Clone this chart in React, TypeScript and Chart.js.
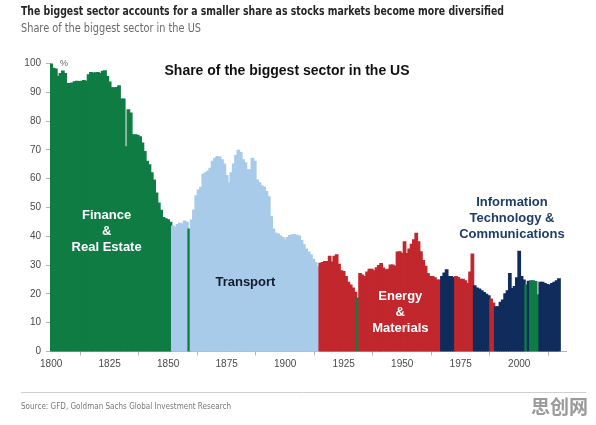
import React, { useEffect, useRef } from "react";
import { Chart, registerables } from "chart.js";

Chart.register(...registerables);

// ---- data ----
const startYear = 1800;

// Share (%) of the biggest sector, one value per year from 1800 to 2017
const shareValues: number[] = [
  // 1800-1809
  100, 98.3, 98, 95.5, 96.5, 97.3, 96.5, 93, 93, 93.2,
  // 1810-1819
  93.6, 93.8, 93.7, 93.8, 94, 93.8, 96, 96.8, 96.6, 96.7,
  // 1820-1829
  96.8, 96.5, 97.2, 97.4, 95.4, 93.5, 91.5, 91.5, 91.6, 92.2,
  // 1830-1839
  87.6, 87.6, 71, 83.9, 82.7, 75.2, 75.2, 75, 74.5, 72.3,
  // 1840-1849
  69.4, 66, 64.8, 62, 59.5, 55, 51.5, 49, 46.5, 46,
  // 1850-1859
  45.7, 44.8, 43.5, 43.2, 44, 44.5, 44.2, 45.2, 44.8, 42.5,
  // 1860-1869
  45.6, 49, 54, 56, 57, 61.5, 62, 62.5, 63.6, 66,
  // 1870-1879
  67, 67.6, 67.5, 66.5, 65, 61, 58.4, 62, 65, 68,
  // 1880-1889
  69.8, 69, 66.5, 65.5, 63, 63, 67, 66, 59.5, 58.5,
  // 1890-1899
  57.5, 57, 55.5, 53.7, 46.8, 42.5, 41, 40.7, 40, 39.5,
  // 1900-1909
  38.7, 39.5, 40.2, 40.5, 40.5, 40.3, 40, 38.5, 37, 35.5,
  // 1910-1919
  34.5, 33.5, 32, 30.8, 29.4, 30.6, 30.8, 31.2, 31.2, 33,
  // 1920-1929
  31, 33, 33.5, 30.2, 28, 27.7, 26, 24, 23, 22,
  // 1930-1939
  20.5, 18.5, 27, 26.5, 26, 27.5, 28.5, 28.5, 28, 29,
  // 1940-1949
  29.8, 30.5, 28.9, 28.3, 28.5, 30, 30, 29.5, 34.5, 34.6,
  // 1950-1959
  34, 38, 34, 35.5, 37.2, 38.7, 41, 38, 34.6, 31.5,
  // 1960-1969
  29.5, 27, 26, 26, 25.5, 24.8, 24.8, 26, 27.2, 28.3,
  // 1970-1979
  26, 26, 25.6, 26, 25.6, 25, 25, 24.5, 23.5, 27.5,
  // 1980-1989
  33.8, 22.8, 22, 21.6, 21, 20.4, 19.8, 19.3, 18.2, 16.8,
  // 1990-1999
  15.5, 15.5, 17, 17.8, 20, 21, 27, 21.8, 22.5, 25.5,
  // 2000-2009
  34.7, 26, 24.8, 23, 24.3, 24.5, 24.5, 24.2, 19.6, 24,
  // 2010-2017
  24, 23.5, 23.2, 23, 23.5, 24, 24.5, 25.2,
];

// Which sector was the biggest, from a given year on
const sectorStartYears = [1800, 1852, 1859, 1860, 1915, 1931, 1932, 1967, 1973, 1981, 1988, 1990, 2003, 2004, 2005, 2009];
const sectorNames = [
  "finance", "transport", "finance", "transport", "energy", "finance", "energy", "tech",
  "energy", "tech", "energy", "tech", "finance", "tech", "finance", "tech",
];

const sectorColors: Record<string, string> = {
  finance: "#0f7c44",
  transport: "#a9cbea",
  energy: "#c1272d",
  tech: "#0f2c5c",
};

const xTickYears = [1800, 1825, 1850, 1875, 1900, 1925, 1950, 1975, 2000];

const titleText = "The biggest sector accounts for a smaller share as stocks markets become more diversified";
const subtitleText = "Share of the biggest sector in the US";
const innerTitleText = "Share of the biggest sector in the US";
const sourceText = "Source: GFD, Goldman Sachs Global Investment Research";
const watermarkText = "思创网";

const sectorLabels = [
  { lines: ["Finance", "&", "Real Estate"], year: 1823.7, value: 47.2, color: "#ffffff" },
  { lines: ["Transport"], year: 1883, value: 24, color: "#151a2c" },
  { lines: ["Energy", "&", "Materials"], year: 1949.2, value: 19, color: "#ffffff" },
  { lines: ["Information", "Technology &", "Communications"], year: 1996.9, value: 51.7, color: "#1f3d68" },
];

function sectorOf(year: number): string {
  let s = sectorNames[0];
  for (let i = 0; i < sectorStartYears.length; i++) {
    if (year >= sectorStartYears[i]) s = sectorNames[i];
  }
  return s;
}

const NARROW = "'Liberation Sans Narrow', 'DejaVu Sans Condensed', 'Liberation Sans', sans-serif";
const SANS = "'Liberation Sans', Arial, sans-serif";

const textPlugin = {
  id: "textOverlay",
  afterDraw(chart: any) {
    const ctx = chart.ctx as CanvasRenderingContext2D;
    const xs = chart.scales.x;
    const ys = chart.scales.y;
    ctx.save();
    ctx.textBaseline = "middle";

    // headline
    ctx.textAlign = "left";
    ctx.fillStyle = "#262626";
    ctx.font = `bold 13px ${NARROW}`;
    ctx.fillText(titleText, 21, 12, 483);
    ctx.fillStyle = "#6a6a6a";
    ctx.font = `12px ${NARROW}`;
    ctx.fillText(subtitleText, 21, 29, 180);

    // inner title
    ctx.fillStyle = "#111111";
    ctx.font = `bold 14px ${SANS}`;
    ctx.fillText(innerTitleText, 164.5, 71, 276);

    // % unit
    ctx.fillStyle = "#666666";
    ctx.font = `9px ${SANS}`;
    ctx.fillText("%", 60, 64);

    // sector labels
    ctx.textAlign = "center";
    ctx.font = `bold 13px ${SANS}`;
    for (const lab of sectorLabels) {
      const cx = xs.getPixelForValue(lab.year);
      const cy = ys.getPixelForValue(lab.value);
      ctx.fillStyle = lab.color;
      lab.lines.forEach((ln, i) => ctx.fillText(ln, cx, cy + i * 16));
    }

    // source rule + text
    ctx.strokeStyle = "#cfcfcf";
    ctx.lineWidth = 1;
    ctx.beginPath();
    ctx.moveTo(21, 392.5);
    ctx.lineTo(586, 392.5);
    ctx.stroke();

    ctx.textAlign = "left";
    ctx.fillStyle = "#777777";
    ctx.font = `9.5px ${NARROW}`;
    ctx.fillText(sourceText, 21, 406.5, 210);

    ctx.fillStyle = "#9a9a9a";
    ctx.font = `bold 19px 'Noto Sans CJK SC', sans-serif`;
    ctx.fillText(watermarkText, 531, 407, 61);
    ctx.restore();
  },
};

export default function App() {
  const canvasRef = useRef<HTMLCanvasElement | null>(null);

  useEffect(() => {
    if (!canvasRef.current) return;
    const points = shareValues.map((v, i) => ({ x: startYear + i, y: v }));
    const colors = shareValues.map((_, i) => sectorColors[sectorOf(startYear + i)]);

    const chart = new Chart(canvasRef.current, {
      type: "bar",
      data: {
        datasets: [
          {
            data: points as any,
            backgroundColor: colors,
            borderColor: colors,
            borderWidth: 0,
            inflateAmount: 0.7,
            barPercentage: 1,
            categoryPercentage: 1,
          } as any,
        ],
      },
      options: {
        animation: false,
        responsive: false,
        events: [],
        layout: { padding: { left: 10, right: 30, top: 63.5, bottom: 48.5 } },
        plugins: {
          legend: { display: false },
          tooltip: { enabled: false },
          title: { display: false },
        },
        scales: {
          x: {
            type: "linear",
            min: 1799.5,
            max: 2020,
            offset: false,
            afterBuildTicks: (axis: any) => {
              axis.ticks = xTickYears.map((v) => ({ value: v }));
            },
            afterFit: (axis: any) => {
              axis.height = 25;
            },
            ticks: {
              autoSkip: false,
              maxRotation: 0,
              padding: 3,
              color: "#4a4a4a",
              font: { size: 10, family: SANS },
              callback: (v: any) => String(v),
            },
            grid: { display: true, drawOnChartArea: false, drawTicks: true, tickLength: 4, color: "#b5b5b5" },
            border: { display: true, color: "#b5b5b5" },
          },
          y: {
            min: 0,
            max: 100,
            afterFit: (axis: any) => {
              axis.width = 40;
            },
            ticks: {
              stepSize: 10,
              padding: 5,
              color: "#4a4a4a",
              font: { size: 10, family: SANS },
              callback: (v: any) => String(v),
            },
            grid: { display: true, drawOnChartArea: false, drawTicks: true, tickLength: 4, color: "#b5b5b5" },
            border: { display: true, color: "#b5b5b5" },
          },
        },
      },
      plugins: [textPlugin],
    });
    return () => chart.destroy();
  }, []);

  return (
    <div style={{ position: "fixed", left: 0, top: 0, width: 596, height: 425, background: "#ffffff" }}>
      <canvas ref={canvasRef} width={596} height={425} style={{ display: "block" }} />
    </div>
  );
}
